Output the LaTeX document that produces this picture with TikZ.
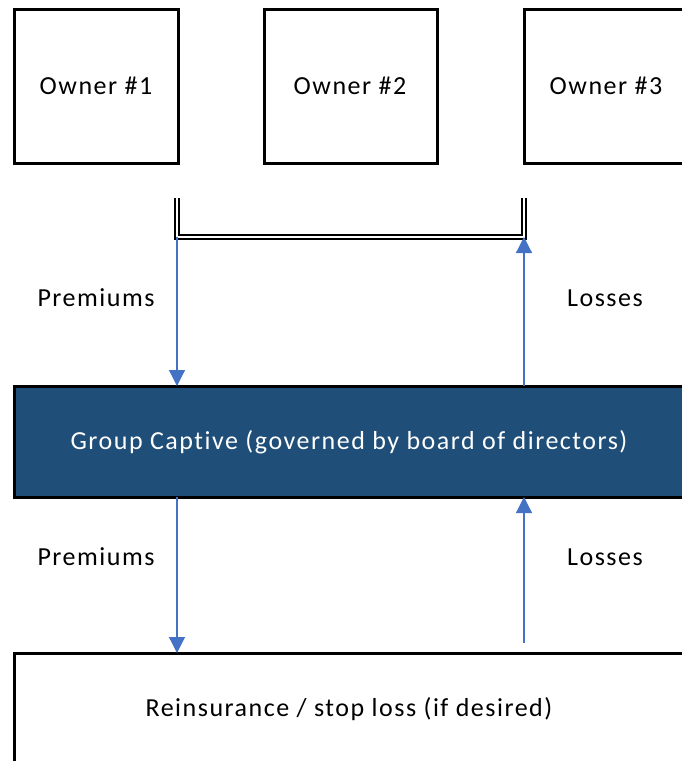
\documentclass[tikz,border=0pt]{standalone}
\usepackage{fontspec}
\setmainfont{Carlito}[LetterSpace=5.8, Ligatures=NoCommon]
\usetikzlibrary{arrows.meta}
\definecolor{captive}{HTML}{1F4E79}
\definecolor{flow}{HTML}{4472C4}
\tikzset{
  x=1pt, y=-1pt,
  box/.style={draw=black, line width=3pt},
  lbl/.style={font=\fontsize{26}{30}\selectfont, inner sep=0pt},
  flowarrow/.style={draw=flow, line width=1.2pt, -{Triangle[length=16pt, width=16pt]}},
  bracket/.style={draw=black, double=white, line width=2.4pt, double distance=1.8pt}
}
\begin{document}
\begin{tikzpicture}
  \useasboundingbox (0,0) rectangle (682,761);
  \clip (0,0) rectangle (682,761);
  % owners
  \draw[box] (14,9) rectangle (178,163);
  \draw[box] (264,9) rectangle (437,163);
  \draw[box] (524,9) rectangle (697,163);
  \node[lbl] (o1) at (96,86) {Owner \#1};
  \node[lbl] (o2) at (350,86) {Owner \#2};
  \node[lbl] (o3) at (606,86) {Owner \#3};
  % captive and reinsurance
  \draw[box, fill=captive] (14,386) rectangle (684,497);
  \node[lbl, text=white] (cap) at (349,442) {Group Captive (governed by board of directors)};
  \draw[box] (14,653) rectangle (684,775);
  \node[lbl] (re) at (349,709) {Reinsurance / stop loss (if desired)};
  % connection points
  \coordinate (bl) at (177,198);
  \coordinate (br) at (524,198);
  \coordinate (bbl) at (177,237);
  \coordinate (bbr) at (524,237);
  \coordinate (ctl) at (177,386);
  \coordinate (ctr) at (524,386);
  \coordinate (cbl) at (177,497);
  \coordinate (cbr) at (524,497);
  \coordinate (rtl) at (177,653);
  \coordinate (rtr) at (524,643);
  % bracket joining the owners
  \draw[bracket] (bl) -- (bbl) -- (bbr) -- (br);
  % flows
  \draw[flowarrow] (bbl) -- (ctl);
  \draw[flowarrow] (ctr) -- (bbr);
  \draw[flowarrow] (cbl) -- (rtl);
  \draw[flowarrow] (rtr) -- (cbr);
  % flow labels
  \node[lbl] (p1) at (96,298) {Premiums};
  \node[lbl] (l1) at (605,298) {Losses};
  \node[lbl] (p2) at (96,557) {Premiums};
  \node[lbl] (l2) at (605,557) {Losses};
\end{tikzpicture}
\end{document}
